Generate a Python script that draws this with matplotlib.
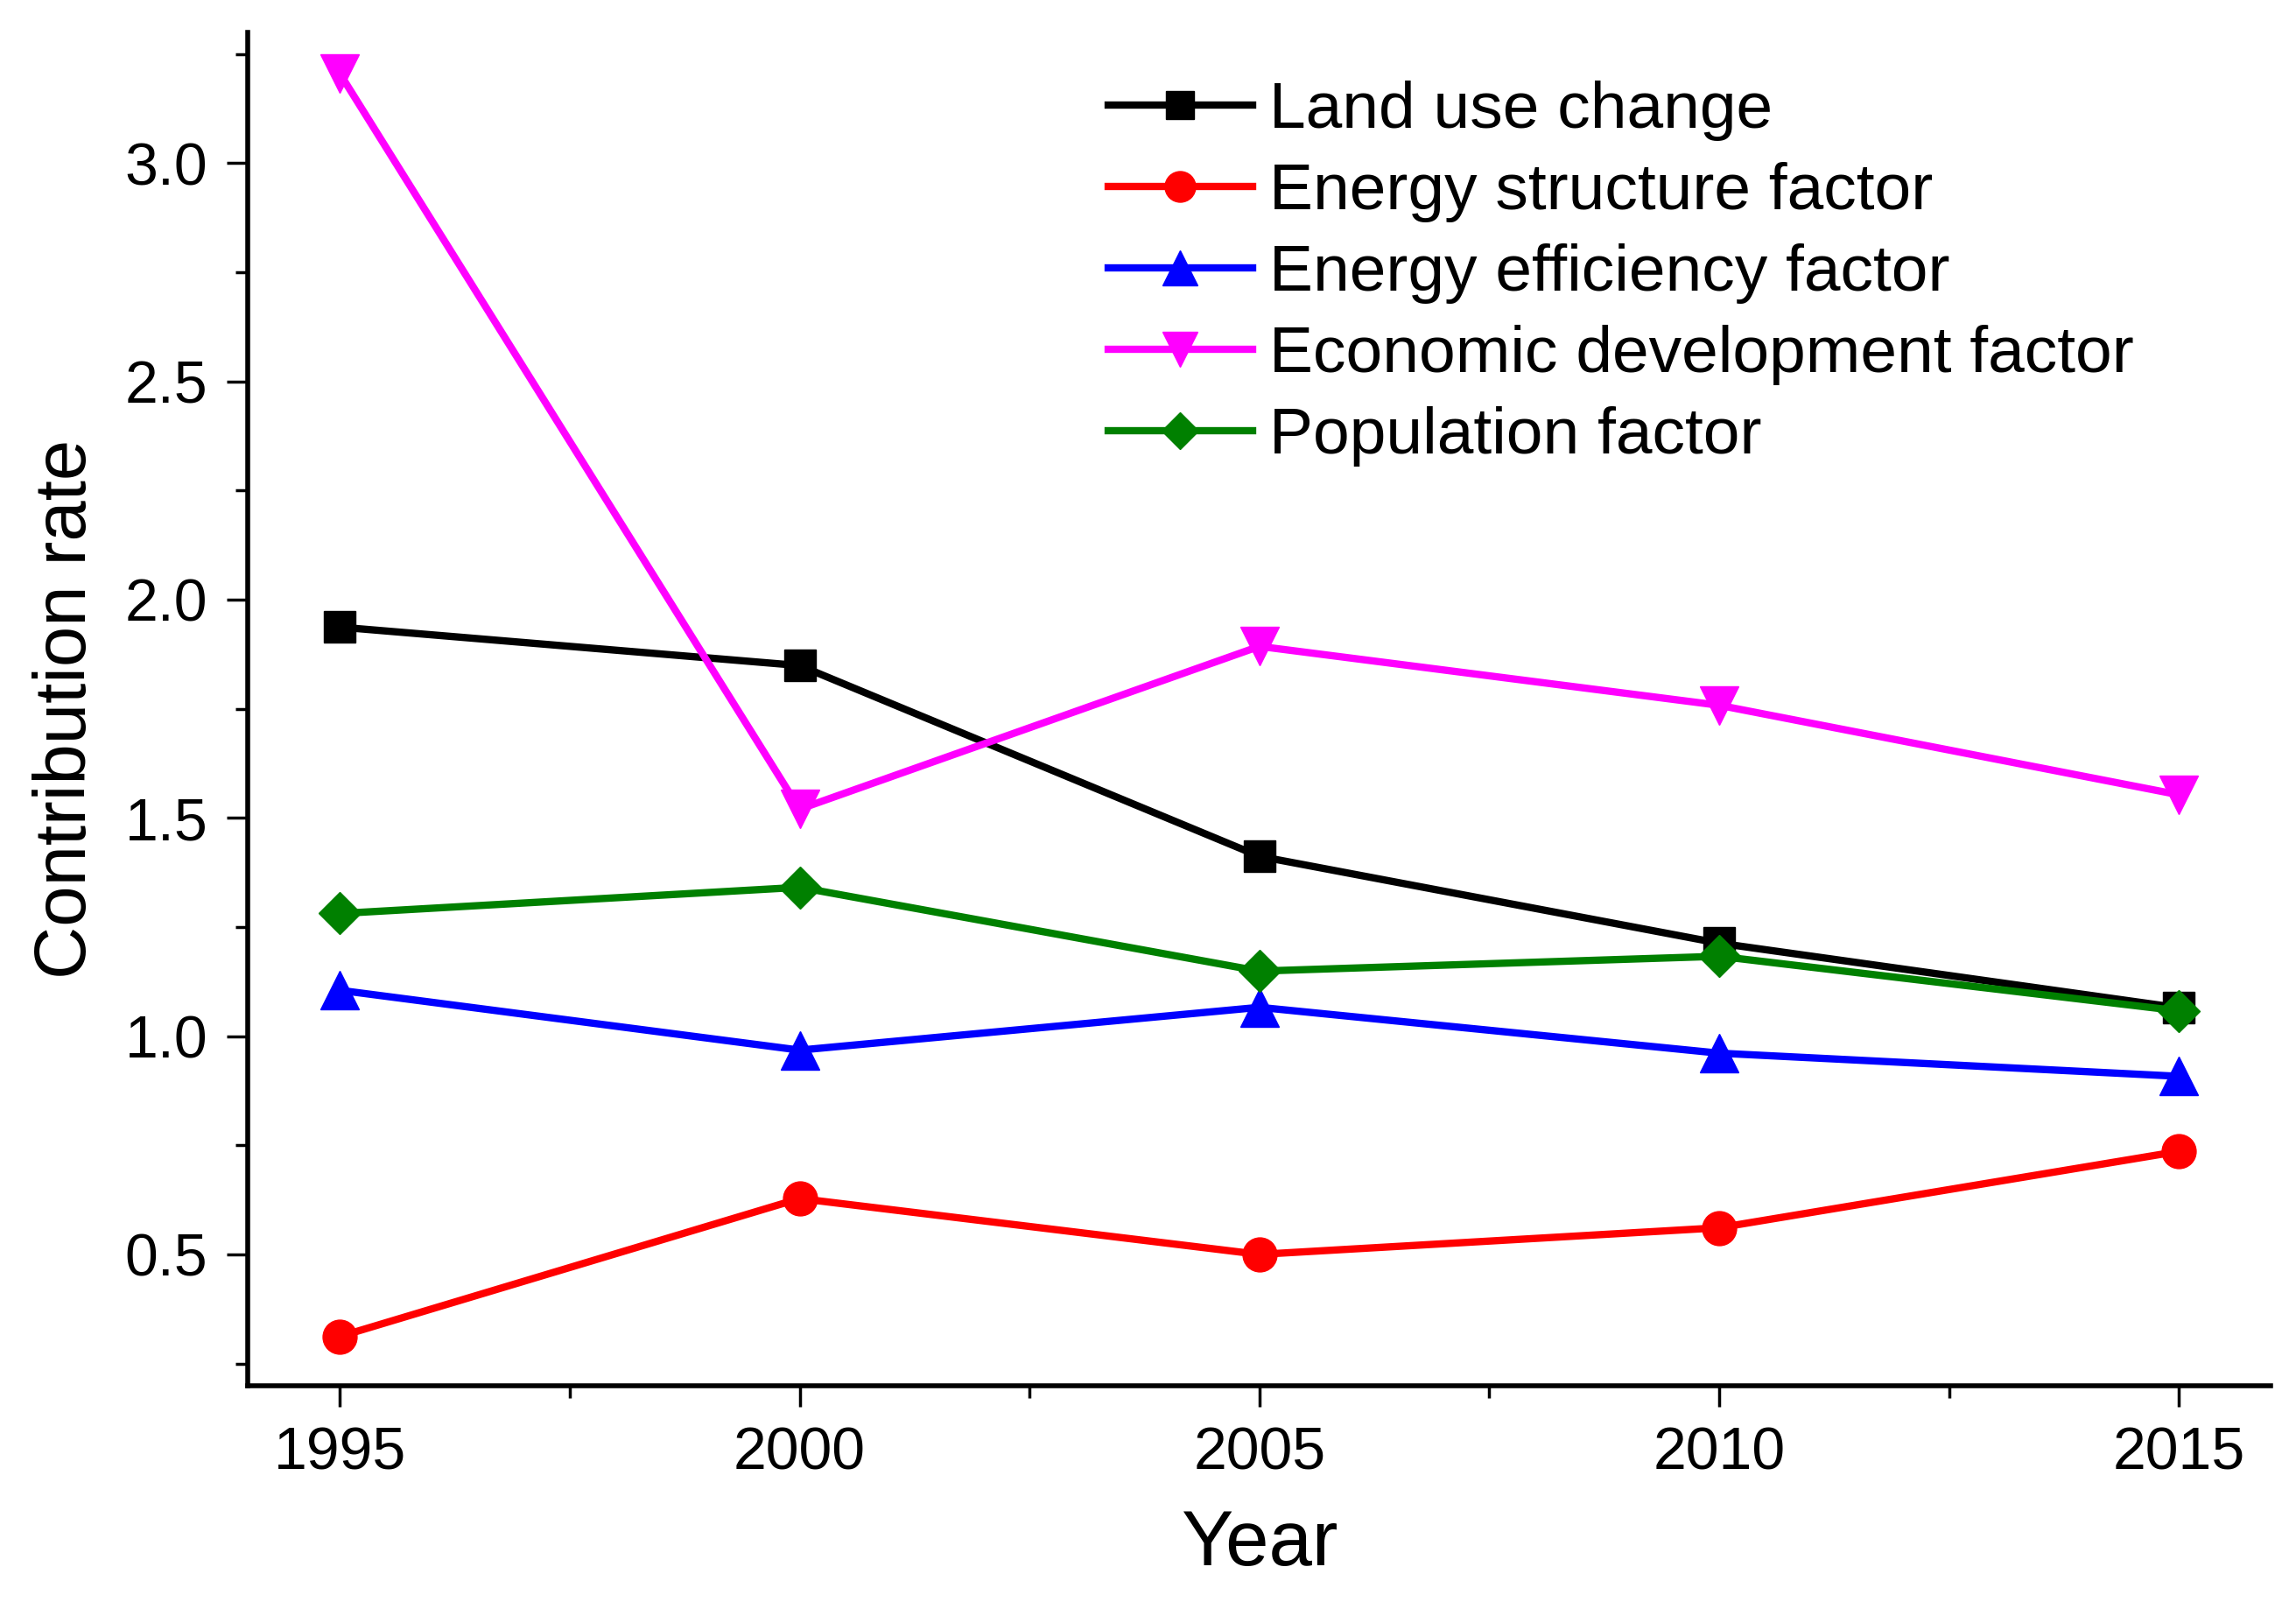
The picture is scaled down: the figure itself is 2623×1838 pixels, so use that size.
import matplotlib
matplotlib.use("Agg")
import matplotlib.pyplot as plt
from matplotlib.ticker import MultipleLocator

plt.rcParams['font.family'] = ['Liberation Sans', 'DejaVu Sans']

years = [1995, 2000, 2005, 2010, 2015]
land_use = [1.937, 1.849, 1.412, 1.213, 1.065]
energy_structure = [0.312, 0.628, 0.500, 0.561, 0.736]
energy_efficiency = [1.105, 0.968, 1.066, 0.961, 0.908]
economic_dev = [3.205, 1.520, 1.893, 1.758, 1.553]
population = [1.281, 1.341, 1.149, 1.183, 1.058]

labels = ["Land use change", "Energy structure factor", "Energy efficiency factor",
          "Economic development factor", "Population factor"]
colors = ["black", "red", "blue", "magenta", "green"]
markers = ["s", "o", "^", "v", "D"]
sizes = [26, 28, 32, 32, 24]


def main():
    fig = plt.figure(figsize=(26.23, 18.38), dpi=100)
    ax = fig.add_axes([0.108, 0.139, 0.881, 0.841])

    series = [land_use, energy_structure, energy_efficiency, economic_dev, population]
    for vals, lab, c, m, ms in zip(series, labels, colors, markers, sizes):
        ax.plot(years, vals, color=c, marker=m, markersize=ms, lw=6,
                label=lab)

    ax.set_xlim(1994, 2016)
    ax.set_ylim(0.2, 3.3)
    ax.xaxis.set_major_locator(MultipleLocator(5))
    ax.xaxis.set_minor_locator(MultipleLocator(2.5))
    ax.yaxis.set_major_locator(MultipleLocator(0.5))
    ax.yaxis.set_minor_locator(MultipleLocator(0.25))

    for s in ["top", "right"]:
        ax.spines[s].set_visible(False)
    for s in ["left", "bottom"]:
        ax.spines[s].set_linewidth(4)

    ax.tick_params(axis="both", which="major", direction="out", length=17,
                   width=2.5, labelsize=49, pad=16)
    ax.tick_params(axis="both", which="minor", direction="out", length=10,
                   width=2.5)

    ax.set_xlabel("Year", fontsize=64, labelpad=22)
    ax.set_ylabel("Contribution rate", fontsize=60, labelpad=20)

    ax.legend(loc="upper left", bbox_to_anchor=(0.396, 1.008), frameon=False,
              fontsize=54, handlelength=2.2, handletextpad=0.25,
              labelspacing=0.32, markerscale=0.9)

    plt.savefig("out.png", dpi=100)


if __name__ == '__main__':
    main()
